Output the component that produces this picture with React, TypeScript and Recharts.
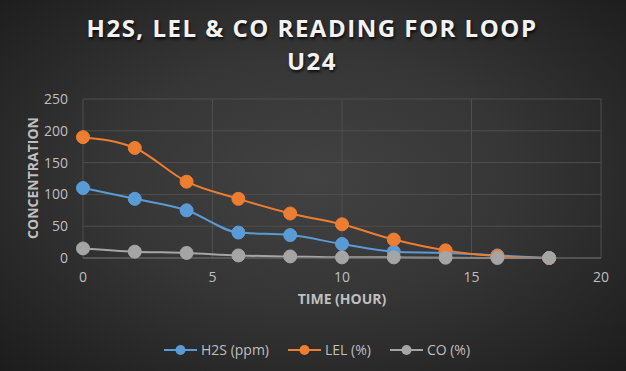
import React from 'react';
import { LineChart, Line, XAxis, YAxis, CartesianGrid } from 'recharts';

const hours = [0, 2, 4, 6, 8, 10, 12, 14, 16, 18];
const h2s = [110, 93, 75, 40, 36, 22, 10, 8, 4, 0];
const lel = [190, 173, 120, 93, 70, 53, 29, 12, 3, 0];
const co = [15, 10, 8, 4, 2.5, 1, 1, 0.5, 0, 0];
const xTicks = [0, 5, 10, 15, 20];
const yTicks = [0, 50, 100, 150, 200, 250];

const series = [
  { key: 'h2s', name: 'H2S (ppm)', color: '#5B9BD5' },
  { key: 'lel', name: 'LEL (%)', color: '#ED7D31' },
  { key: 'co', name: 'CO (%)', color: '#A5A5A5' },
];

const data = hours.map((t, i) => ({ t, h2s: h2s[i], lel: lel[i], co: co[i] }));

const FONT = '"Open Sans", "Noto Sans", sans-serif';
const tickStyle = { fill: '#bfbfbf', fontSize: 14, fontFamily: FONT };

export default function App() {
  return (
    <div
      style={{
        position: 'absolute',
        top: 0,
        left: 0,
        width: 626,
        height: 371,
        background: 'radial-gradient(ellipse at 50% 48%, #424242 0%, #363636 45%, #1c1c1c 100%)',
        fontFamily: FONT,
        overflow: 'hidden',
      }}
    >
      <div
        style={{
          position: 'absolute',
          top: 11,
          left: 0,
          width: 624,
          textAlign: 'center',
          color: '#f2f2f2',
          fontSize: 24,
          fontWeight: 700,
          letterSpacing: 1.5,
          lineHeight: '33px',
          textShadow: '1px 2px 3px rgba(0,0,0,0.8)',
        }}
      >
        H2S, LEL &amp; CO READING FOR LOOP
        <br />
        U24
      </div>
      <LineChart width={626} height={371} data={data} margin={{ top: 99, right: 25, bottom: 83, left: 40 }}>
        <CartesianGrid stroke="#4f4f4f" strokeWidth={1} />
        <XAxis
          dataKey="t"
          type="number"
          domain={[0, 20]}
          ticks={xTicks}
          height={30}
          tickLine={false}
          axisLine={{ stroke: '#6a6a6a' }}
          tick={tickStyle}
          tickMargin={8}
        />
        <YAxis
          domain={[0, 250]}
          ticks={yTicks}
          width={43}
          tickLine={false}
          axisLine={false}
          tick={tickStyle}
          tickMargin={9}
        />
        {series.map((s) => (
          <Line
            key={s.key}
            type="monotone"
            dataKey={s.key}
            name={s.name}
            stroke={s.color}
            strokeWidth={2}
            dot={{ r: 6.5, fill: s.color, stroke: s.color, strokeWidth: 1 }}
            isAnimationActive={false}
          />
        ))}
        <text
          x={32}
          y={178}
          transform="rotate(-90 32 178)"
          textAnchor="middle"
          dominantBaseline="central"
          fill="#bfbfbf"
          fontSize={14}
          fontWeight={700}
          fontFamily={FONT}
        >
          CONCENTRATION
        </text>
        <text
          x={342}
          y={298}
          textAnchor="middle"
          dominantBaseline="central"
          fill="#bfbfbf"
          fontSize={14}
          fontWeight={700}
          fontFamily={FONT}
        >
          TIME (HOUR)
        </text>
      </LineChart>
      <div
        style={{
          position: 'absolute',
          top: 340,
          left: 164,
          display: 'flex',
          gap: 19,
          color: '#bfbfbf',
          fontSize: 14,
        }}
      >
        {series.map((s) => (
          <div key={s.key} style={{ display: 'flex', alignItems: 'center', gap: 4 }}>
            <svg width={33} height={14}>
              <line x1={0} y1={7} x2={33} y2={7} stroke={s.color} strokeWidth={2} />
              <circle cx={16.5} cy={7} r={5} fill={s.color} />
            </svg>
            <span>{s.name}</span>
          </div>
        ))}
      </div>
    </div>
  );
}
